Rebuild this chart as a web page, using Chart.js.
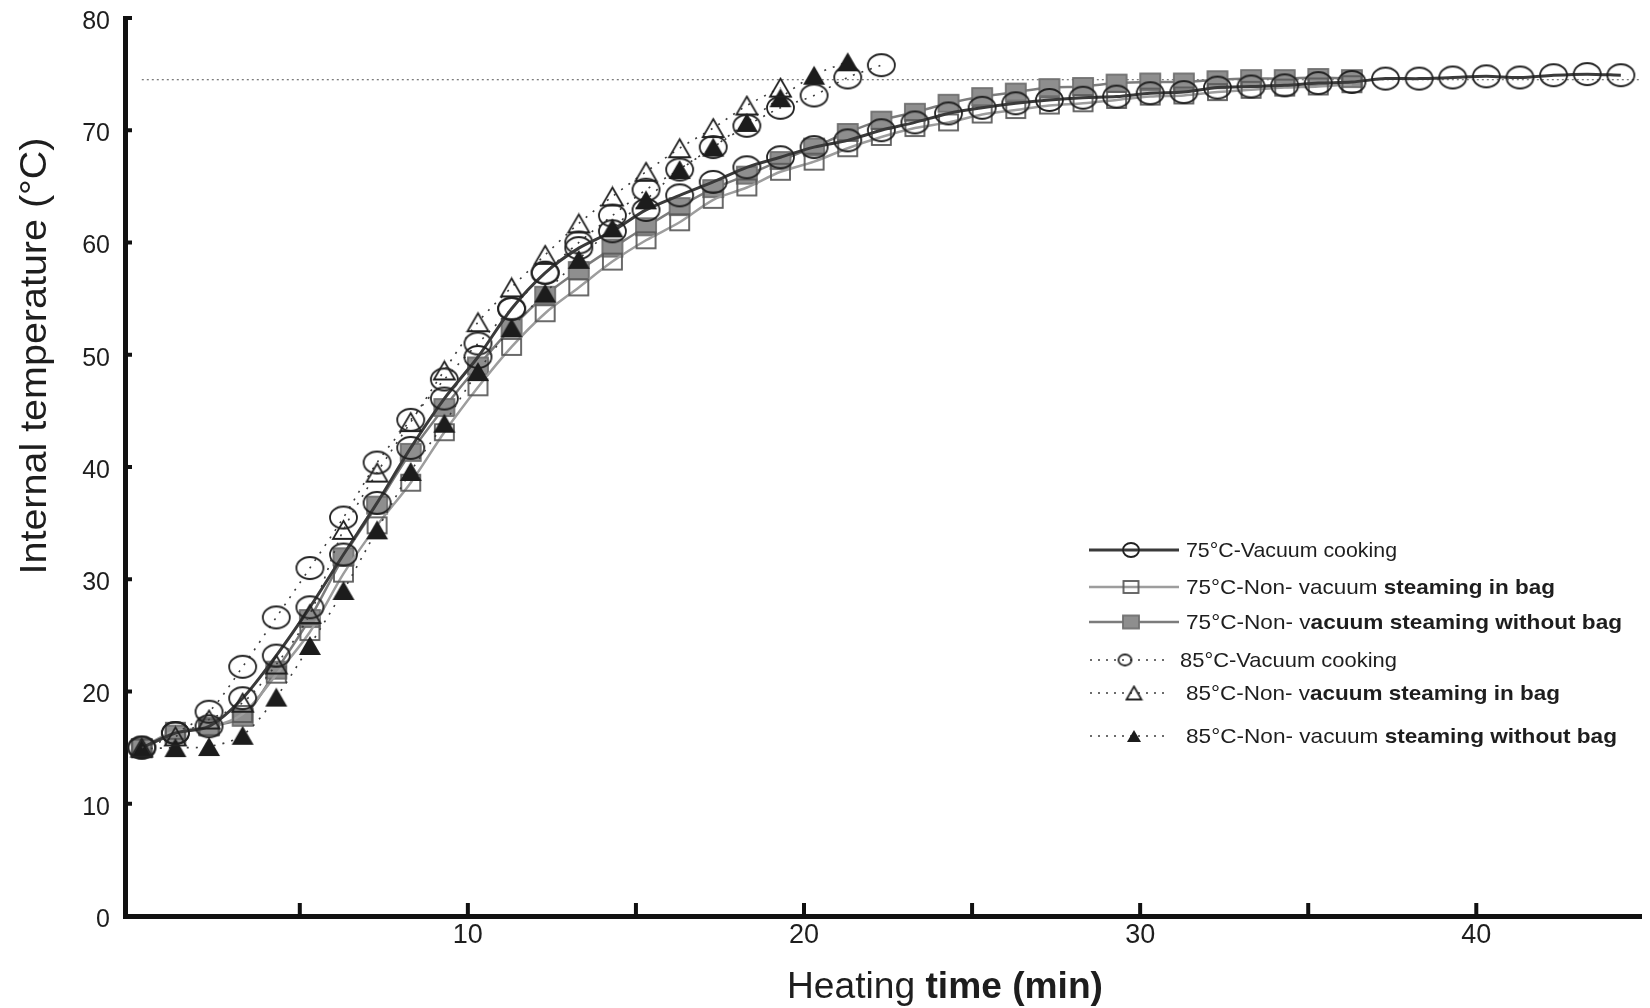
<!DOCTYPE html>
<html>
<head>
<meta charset="utf-8">
<title>Internal temperature during heating</title>
<script src="https://cdn.jsdelivr.net/npm/chart.js@4.4.1/dist/chart.umd.min.js"></script>
<style>
  html, body { margin:0; padding:0; background:#fff; }
  canvas { display:block; }
</style>
</head>
<body>
<canvas id="chart" width="1650" height="1008"></canvas>
<script>
// heating time (min) of each reading
const minutes = [0.3, 1.3, 2.3, 3.3, 4.3, 5.3, 6.3, 7.3, 8.3, 9.3, 10.3, 11.3, 12.3, 13.3, 14.3,
  15.3, 16.3, 17.3, 18.3, 19.3, 20.3, 21.3, 22.3, 23.3, 24.3, 25.3, 26.3, 27.3, 28.3, 29.3,
  30.3, 31.3, 32.3, 33.3, 34.3, 35.3, 36.3, 37.3, 38.3, 39.3, 40.3, 41.3, 42.3, 43.3, 44.3]

// internal temperature (°C)
const vac75 = [15.0, 16.3, 16.9, 19.4, 23.2, 27.5, 32.2, 36.8, 41.7, 46.1, 49.8, 54.1, 57.3, 59.5, 61.0,
  62.9, 64.2, 65.4, 66.7, 67.6, 68.5, 69.1, 70.0, 70.7, 71.5, 72.0, 72.4, 72.7, 72.9, 73.0,
  73.3, 73.4, 73.8, 73.9, 74.0, 74.2, 74.3, 74.6, 74.6, 74.7, 74.8, 74.7, 74.9, 75.0, 74.9]
const bag75 = [15.0, 16.5, 16.8, 18.0, 21.5, 25.3, 30.5, 34.8, 38.6, 43.1, 47.1, 50.7, 53.7, 56.0, 58.3,
  60.2, 61.8, 63.8, 64.9, 66.3, 67.2, 68.4, 69.4, 70.2, 70.7, 71.4, 71.8, 72.2, 72.4, 72.7,
  73.0, 73.1, 73.4, 73.6, 73.8, 73.9, 74.1]
const noBag75 = [15.0, 16.2, 16.9, 17.7, 21.9, 26.5, 32.0, 36.6, 41.3, 45.3, 49.0, 52.4, 55.3, 57.5, 59.5,
  61.4, 63.2, 64.8, 66.0, 67.3, 68.5, 69.8, 70.9, 71.6, 72.4, 73.0, 73.4, 73.8, 73.9, 74.2,
  74.3, 74.3, 74.5, 74.6, 74.6, 74.7, 74.6]
const vac85 = [15.0, 16.3, 18.2, 22.2, 26.6, 31.0, 35.5, 40.4, 44.2, 47.8, 51.0, 54.1, 57.3, 60.0, 62.4,
  64.7, 66.5, 68.5, 70.4, 72.0, 73.1, 74.7, 75.8]
const bag85 = [15.0, 16.0, 17.5, 19.0, 22.4, 26.9, 34.4, 39.5, 44.0, 48.6, 52.9, 56.0, 58.9, 61.7, 64.1,
  66.3, 68.4, 70.2, 72.2, 73.8]
const noBag85 = [14.9, 15.0, 15.1, 16.1, 19.5, 24.1, 29.0, 34.4, 39.6, 43.9, 48.5, 52.4, 55.5, 58.5, 61.3,
  63.8, 66.5, 68.5, 70.7, 72.9, 74.9, 76.1]

const refTemp = 74.5
const refSpan = [0.3, 44.9]

const legendRows = [
  [['75°C-Vacuum cooking', false]],
  [['75°C-Non- vacuum ', false], ['steaming in bag', true]],
  [['75°C-Non- v', false], ['acuum steaming without bag', true]],
  [['85°C-Vacuum cooking', false]],
  [['85°C-Non- v', false], ['acuum steaming in bag', true]],
  [['85°C-Non- vacuum ', false], ['steaming without bag', true]]
]

const FONT = "'Liberation Sans', Arial, sans-serif"
const NARROW = "'Liberation Sans Narrow', 'Arial Narrow', 'Liberation Sans', sans-serif"
const INK = '#1e1e1e'

// marker bitmaps (the printed symbols are slightly wider than tall)
function marker(kind, w, h){
  const c = document.createElement('canvas')
  c.width = Math.ceil(w + 4); c.height = Math.ceil(h + 4)
  const g = c.getContext('2d')
  const cx = c.width/2, cy = c.height/2
  g.lineWidth = 1.8
  g.strokeStyle = '#222'
  if(kind==='circle'){
    g.beginPath(); g.ellipse(cx, cy, w/2, h/2, 0, 0, Math.PI*2); g.stroke()
  } else if(kind==='square'){
    g.strokeStyle = '#5a5a5a'
    g.strokeRect(cx-w/2, cy-h/2, w, h)
  } else if(kind==='graySquare'){
    g.fillStyle = '#8e8e8e'
    g.fillRect(cx-w/2, cy-h/2, w, h)
    g.strokeStyle = '#707070'
    g.strokeRect(cx-w/2, cy-h/2, w, h)
  } else {
    g.beginPath()
    g.moveTo(cx, cy-h/2); g.lineTo(cx+w/2, cy+h/2); g.lineTo(cx-w/2, cy+h/2); g.closePath()
    if(kind==='solidTriangle'){ g.fillStyle = '#1c1c1c'; g.fill() }
    else g.stroke()
  }
  return c
}

const pts = (arr) => arr.map((v,i) => ({x: minutes[i], y: v}))
const dotted = [2, 7]

const series = [
  { data: vac75, kind:'circle', w:27, h:22, color:'#3a3a3a', width:3, dash:[], order:3 },
  { data: bag75, kind:'square', w:19, h:16, color:'#9d9d9d', width:2.5, dash:[], order:5 },
  { data: noBag75, kind:'graySquare', w:20, h:17, color:'#7c7c7c', width:2.5, dash:[], order:6 },
  { data: vac85, kind:'circle', w:27, h:22, color:'#3c3c3c', width:1.6, dash:dotted, order:4 },
  { data: bag85, kind:'triangle', w:21, h:18, color:'#3c3c3c', width:1.6, dash:dotted, order:1 },
  { data: noBag85, kind:'solidTriangle', w:22, h:19, color:'#3c3c3c', width:1.6, dash:dotted, order:2 }
]

const legendMarks = [
  marker('circle', 16, 14), marker('square', 15, 12), marker('graySquare', 16, 13),
  marker('circle', 13, 11), marker('triangle', 15, 13), marker('solidTriangle', 14, 12)
]

const datasets = series.map(s => ({
  data: pts(s.data),
  borderColor: s.color,
  borderWidth: s.width,
  borderDash: s.dash,
  tension: 0.3,
  pointStyle: marker(s.kind, s.w, s.h),
  pointRadius: 6,
  order: s.order
}))

// dotted reference level
datasets.push({
  data: [{x: refSpan[0], y: refTemp}, {x: refSpan[1], y: refTemp}],
  borderColor: '#555', borderWidth: 1, borderDash: [2, 3],
  pointRadius: 0, order: 9
})

// legend text: start x, end x, baseline-middle y
const legendBox = [
  [1186, 1397, 550], [1186, 1555, 587], [1186, 1622, 622],
  [1180, 1397, 660], [1186, 1560, 693], [1186, 1617, 736]
]

function mixedText(ctx, x0, x1, y, parts, size){
  let total = 0
  for(const [t, bold] of parts){
    ctx.font = `${bold ? 'bold ' : ''}${size}px ${FONT}`
    total += ctx.measureText(t).width
  }
  ctx.save()
  ctx.translate(x0, y)
  ctx.scale((x1 - x0)/total, 1)
  let cx = 0
  for(const [t, bold] of parts){
    ctx.font = `${bold ? 'bold ' : ''}${size}px ${FONT}`
    ctx.fillText(t, cx, 0)
    cx += ctx.measureText(t).width
  }
  ctx.restore()
}

const decor = {
  id: 'decor',
  afterDraw(chart){
    const {ctx, chartArea:a, scales:{x, y}} = chart
    ctx.save()
    ctx.strokeStyle = '#111'
    ctx.lineWidth = 4
    // tick marks point into the plot
    x.ticks.forEach(t => {
      if(t.value <= 0 || t.value % 5 !== 0) return
      const px = x.getPixelForValue(t.value)
      ctx.beginPath(); ctx.moveTo(px, a.bottom); ctx.lineTo(px, a.bottom - 13); ctx.stroke()
    })
    y.ticks.forEach(t => {
      if(t.value <= 0) return
      const py = y.getPixelForValue(t.value)
      ctx.beginPath(); ctx.moveTo(a.left, py); ctx.lineTo(a.left + 7, py); ctx.stroke()
    })

    ctx.fillStyle = INK
    ctx.textBaseline = 'alphabetic'

    // y title
    ctx.save()
    ctx.font = `36px ${FONT}`
    const yt = 'Internal temperature (°C)'
    const yw = ctx.measureText(yt).width
    ctx.translate(46, 356)
    ctx.rotate(-Math.PI/2)
    ctx.scale(437/yw, 1)
    ctx.textAlign = 'center'
    ctx.fillText(yt, 0, 0)
    ctx.restore()

    // x title, second half set in bold
    ctx.save()
    ctx.font = `36px ${NARROW}`
    const w1 = ctx.measureText('Heating ').width
    ctx.font = `bold 36px ${NARROW}`
    const w2 = ctx.measureText('time (min)').width
    ctx.translate(787, 998)
    ctx.scale(316/(w1+w2), 1)
    ctx.font = `36px ${NARROW}`
    ctx.fillText('Heating ', 0, 0)
    ctx.font = `bold 36px ${NARROW}`
    ctx.fillText('time (min)', w1, 0)
    ctx.restore()

    // legend
    const markX = [1131, 1131, 1131, 1125, 1134, 1134]
    legendRows.forEach((parts, i) => {
      const s = series[i]
      const [x0, x1, yy] = legendBox[i]
      ctx.save()
      ctx.strokeStyle = s.color
      if(s.dash.length){
        ctx.lineWidth = 1.5
        ctx.setLineDash([2, 6])
        ctx.beginPath(); ctx.moveTo(1090, yy); ctx.lineTo(1166, yy); ctx.stroke()
      } else {
        ctx.lineWidth = s.width
        ctx.beginPath(); ctx.moveTo(1089, yy); ctx.lineTo(1179, yy); ctx.stroke()
      }
      ctx.restore()
      const m = legendMarks[i]
      ctx.drawImage(m, markX[i] - m.width/2, yy - m.height/2)
      ctx.textBaseline = 'middle'
      mixedText(ctx, x0, x1, yy + 1, parts, 21)
    })
    ctx.restore()
  }
}

new Chart(document.getElementById('chart'), {
  type: 'line',
  data: { datasets },
  plugins: [decor],
  options: {
    responsive: false,
    animation: false,
    events: [],
    layout: { padding: { top: 18, right: 8, left: 0, bottom: 0 } },
    plugins: { legend: { display: false }, tooltip: { enabled: false } },
    scales: {
      x: {
        type: 'linear',
        min: -0.2, max: 44.9,
        grid: { display: false, drawTicks: false },
        border: { display: true, color: '#111', width: 5 },
        ticks: {
          stepSize: 5,
          padding: 3,
          color: INK,
          font: { family: NARROW, size: 27 },
          maxRotation: 0,
          autoSkip: false,
          callback: v => (v > 0 && v % 10 === 0) ? String(v) : ''
        },
        afterFit: s => { s.height = 92; s.paddingLeft = 0; s.paddingRight = 0 }
      },
      y: {
        min: 0, max: 80,
        grid: { display: false, drawTicks: false },
        border: { display: true, color: '#111', width: 5 },
        ticks: {
          stepSize: 10,
          padding: 15,
          labelOffset: 4,
          color: INK,
          font: { family: FONT, size: 25 }
        },
        afterFit: s => { s.width = 125; s.paddingTop = 0; s.paddingBottom = 0 }
      }
    }
  }
})
</script>
</body>
</html>
